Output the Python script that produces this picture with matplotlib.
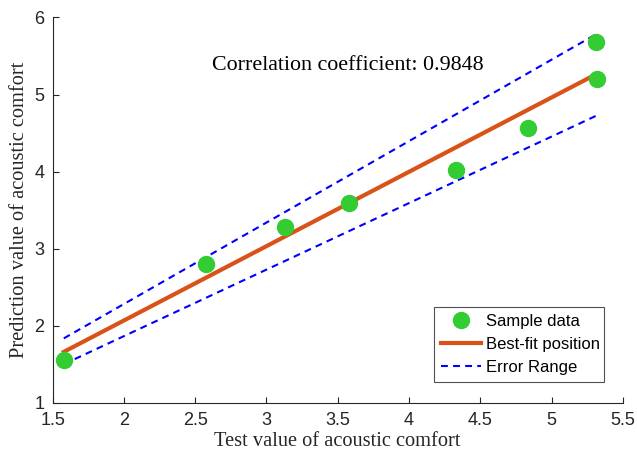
import numpy as np
import matplotlib
matplotlib.use('Agg')
import matplotlib.pyplot as plt

# sample points
test_vals = [1.578, 2.576, 3.129, 3.576, 4.329, 4.837, 5.315, 5.322]
pred_vals = [1.56, 2.795, 3.28, 3.594, 4.025, 4.563, 5.678, 5.195]

# line endpoints (x from first to last sample)
line_x = [1.578, 5.32]
fit_y = [1.66, 5.27]
upper_y = [1.835, 5.79]
lower_y = [1.50, 4.73]

corr_text = 'Correlation coefficient: 0.9848'

plt.rcParams['font.family'] = ['Liberation Sans', 'DejaVu Sans']
serif = ['Liberation Serif', 'DejaVu Serif']
axcol = '#262626'

fig = plt.figure(figsize=(6.37, 4.57), dpi=100)
ax = fig.add_axes([0.0827, 0.1188, 0.895, 0.843])

ax.plot(test_vals, pred_vals, 'o', color='#33cc33', markersize=11.5, label='Sample data', zorder=3)
ax.plot(line_x, fit_y, '-', color='#D95319', linewidth=3, label='Best-fit position', zorder=2)
ax.plot(line_x, upper_y, '--', color='blue', linewidth=1.5, dashes=(3.3, 2.5), label='Error Range', zorder=2)
ax.plot(line_x, lower_y, '--', color='blue', linewidth=1.5, dashes=(3.3, 2.5), zorder=2)

ax.text(3.568, 5.38, corr_text, ha='center', va='center', fontsize=15.8, family=serif, color='black')

ax.set_xlim(1.5, 5.5)
ax.set_ylim(1, 6)
ax.set_xticks(np.arange(1.5, 5.51, 0.5))
ax.set_xticklabels(['1.5', '2', '2.5', '3', '3.5', '4', '4.5', '5', '5.5'])
ax.set_yticks([1, 2, 3, 4, 5, 6])

for s in ['top', 'right']:
    ax.spines[s].set_visible(False)
for s in ['left', 'bottom']:
    ax.spines[s].set_color(axcol)
    ax.spines[s].set_linewidth(0.8)
ax.tick_params(direction='in', length=4, width=0.8, color=axcol, labelcolor=axcol, labelsize=13)
ax.tick_params(axis='x', pad=7)
ax.tick_params(axis='y', pad=6)

ax.set_xlabel('Test value of acoustic comfort', fontsize=14.7, family=serif, color=axcol, labelpad=2)
ax.set_ylabel('Prediction value of acoustic comfort', fontsize=14.7, family=serif, color=axcol, labelpad=4)

leg = ax.legend(loc='lower left', bbox_to_anchor=(0.669, 0.054, 0.298, 0.191), mode='expand',
                fontsize=12, frameon=True, fancybox=False, borderaxespad=0, handlelength=2.4,
                handletextpad=0.3, labelspacing=0.5, borderpad=0.4)
leg.get_frame().set_edgecolor(axcol)
leg.get_frame().set_linewidth(0.8)

fig.savefig('out.png', dpi=100)
